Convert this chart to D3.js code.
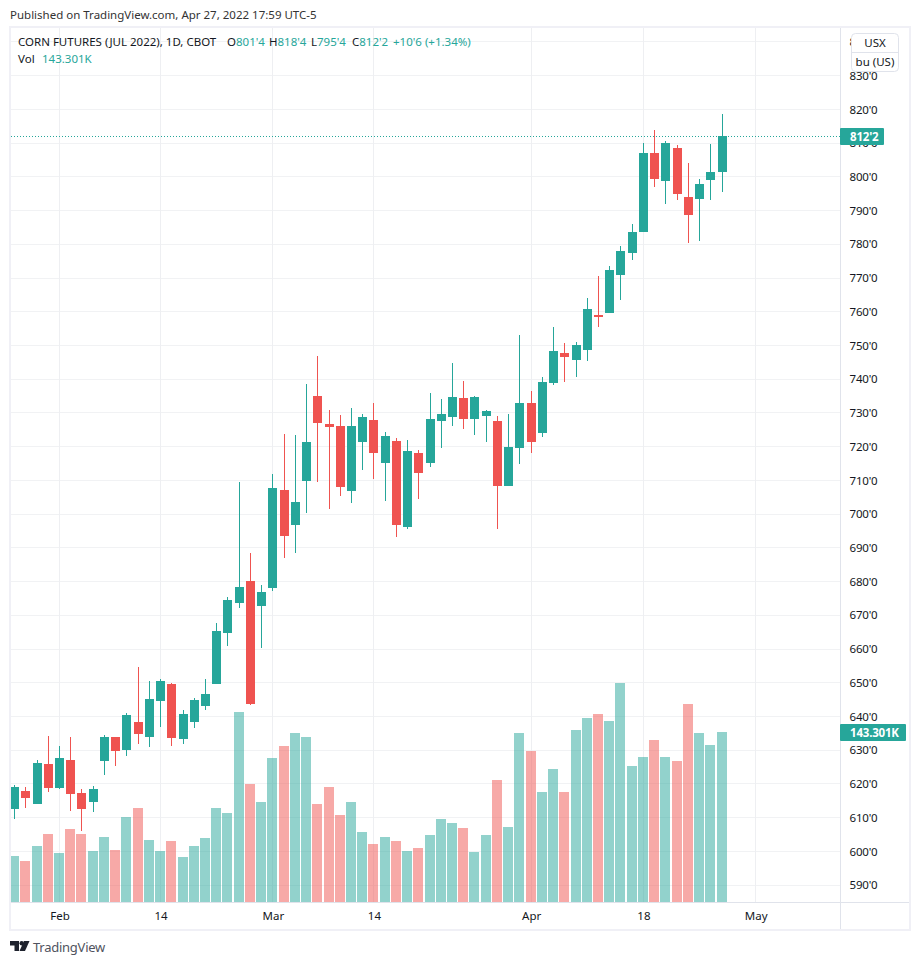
<!DOCTYPE html>
<html><head><meta charset="utf-8">
<script src="https://cdn.jsdelivr.net/npm/d3@7/dist/d3.min.js"></script>
<style>html,body{margin:0;padding:0;background:#fff}svg{display:block}text{font-family:"Noto Sans",sans-serif}</style>
</head><body><svg id="c" width="920" height="965"></svg>
<script>
const opens = [612.7,617.8,613.9,625.8,618.9,627,617.2,614.5,626.7,633.8,630.2,638.5,633.8,644.5,649.5,633.2,638.5,643,649.5,664.7,673.6,680.1,672.7,678,707.1,696.7,709.8,735,726.7,726.1,706.8,721.3,727.9,715.1,721.6,696.1,718.1,715.1,727.6,728.8,734.4,728.2,729,727.6,708.3,719.6,732.9,724,738.8,747.7,745.7,748.6,759,759.6,770.9,777.4,783.6,807.1,798.8,808.6,794,793.4,799.1,801.5];
const highs = [619.8,619.2,627,634.1,631.1,633.8,618.6,619.5,634.4,633.8,640.9,654.6,650.4,651,649.8,641.8,645.4,651,667.6,675.3,709.5,688.4,678.9,711.8,723.7,723.4,738.5,746.9,730.8,729.3,731.4,729.6,732.9,724.3,722.5,721.9,719,735.9,734.1,744.8,739.4,735,730.8,729,729.6,753.1,736.5,740.6,755.5,750.7,751,764.1,770.6,773.6,779.5,786,810,813.9,810.7,809.5,804.1,799.4,809.8,818.5];
const lows = [609.7,613,613.9,617.5,618.4,612.1,605.9,611.8,622.5,625.2,628.4,631.7,630.8,637,631.1,631.7,636.7,641.8,649.5,660.8,672.1,643.3,660.2,677.1,687,688.4,700.3,709.5,701.5,705.3,703.2,713,710.4,703.8,693.1,695.5,704.4,713.9,719.6,726.1,725.2,723.4,721.3,695.5,708.3,714.8,718.1,722.8,738.2,739.1,740.6,745.4,755.5,759.6,763.5,775.3,783.6,797,792,793.2,780.4,781,793.2,795.5];
const closes = [619.2,615.7,626.1,618.9,627.8,616.9,612.7,618.4,633.8,629.9,640.3,634.7,645.1,650.4,633.5,640.6,644.8,646.8,665.2,674.4,678.3,643.6,676.8,707.7,693.4,703.5,721.3,727,725.8,708,726.1,728.8,718.1,723.1,696.7,718.7,712.1,728.2,729.6,734.7,728.2,734.7,730.5,708.3,719.8,732.9,721.3,739.1,748.3,746.6,750.1,760.8,758.4,772.4,778,783.6,807.1,799.4,810.1,794.9,788.7,797.9,801.5,812.25];
const volumes = [39,34.8,47.4,57.5,41.5,61.7,57.5,43.2,55,44,71.8,79.4,52.4,43.2,51.6,38.1,47.4,54.1,79.4,75.1,160.1,99.5,84.4,121.4,131.5,142.5,139.1,82.7,97,73.5,84.4,59.2,49.1,54.9,51.6,43.2,45.7,56.6,70.1,66.7,62.5,42.3,56.6,102.9,63.4,142.5,127.3,92.8,112.2,92.8,145,155.1,158.5,152.6,184.5,114.7,122.3,136.6,122.3,118.9,166.9,142.5,132.4,143.301];
const timeTickIndex = [4,13,23,32,46,56,66];
const timeTickLabels = ["Feb","14","Mar","14","Apr","18","May"];
const priceTicks = d3.range(590,850,10);

const UP="#26a69a", DOWN="#ef5350", GRID="#f1f2f4", VGRID="#eeeff2", FRAME="#f0f0f6", LINE="#e0e3eb", TXT="#131722";
const FS=11.5;
const frac = v => { const w=Math.floor(v+1e-9); return w+"'"+Math.round((v-w)*8); };
const svg=d3.select("#c");
const L=11,R=840,T=28,B=902,OR=909;
const x=d3.scaleLinear().domain([0,66]).range([14.6,755.7]);
const y=d3.scaleLinear().domain([590,820]).range([885.1,109.4]);
const v=d3.scaleLinear().domain([0,143.301]).range([B,732]);
const idx=d3.range(opens.length);
const px=n=>Math.floor(n)+.5;
const up=i=>closes[i]>=opens[i];

// grid
const grid=svg.append("g").attr("stroke",GRID).attr("stroke-width",1).attr("fill","none");
grid.selectAll("line.h").data(priceTicks.filter(p=>y(p)>T)).join("line").attr("class","h").attr("x1",L).attr("x2",R).attr("y1",d=>px(y(d))).attr("y2",d=>px(y(d)));
grid.selectAll("line.v").data(timeTickIndex).join("line").attr("class","v").attr("stroke",VGRID).attr("x1",d=>px(x(d))).attr("x2",d=>px(x(d))).attr("y1",T).attr("y2",B);

// volume
svg.append("g").selectAll("rect").data(idx).join("rect")
 .attr("x",i=>Math.max(L,Math.floor(x(i))-5)).attr("width",i=>Math.floor(x(i))-5<L?Math.floor(x(i))+5-L:10)
 .attr("y",i=>v(volumes[i])).attr("height",i=>B-v(volumes[i]))
 .attr("fill",i=>up(i)?UP:DOWN).attr("fill-opacity",.5).attr("shape-rendering","crispEdges");

// candles
const cg=svg.append("g").attr("shape-rendering","crispEdges");
cg.selectAll("line").data(idx).join("line")
 .attr("x1",i=>px(x(i))).attr("x2",i=>px(x(i)))
 .attr("y1",i=>y(highs[i])).attr("y2",i=>y(lows[i]))
 .attr("stroke",i=>up(i)?UP:DOWN).attr("stroke-width",1);
cg.selectAll("rect").data(idx).join("rect")
 .attr("x",i=>Math.max(L,Math.floor(x(i))-4)).attr("width",i=>Math.floor(x(i))-4<L?Math.floor(x(i))+5-L:9)
 .attr("y",i=>y(Math.max(opens[i],closes[i])))
 .attr("height",i=>Math.max(2,Math.abs(y(opens[i])-y(closes[i]))))
 .attr("fill",i=>up(i)?UP:DOWN);

// last-price line
const last=closes.length-1;
svg.append("line").attr("x1",L).attr("x2",R).attr("y1",136.5).attr("y2",136.5)
 .attr("stroke",UP).attr("stroke-width",1).attr("stroke-dasharray","1 2").attr("shape-rendering","crispEdges");

// axes
const ay=d3.axisRight(y).tickValues(priceTicks).tickSize(0).tickPadding(9).tickFormat(frac);
const gy=svg.append("g").attr("transform",`translate(${R+.5},0)`).call(ay);
gy.select(".domain").remove();
gy.selectAll("text").attr("font-size",FS).attr("letter-spacing",-.2).attr("fill",TXT).attr("font-family",'"Noto Sans",sans-serif');
const ax=d3.axisBottom(x).tickValues(timeTickIndex).tickSize(0).tickPadding(9).tickFormat((d,i)=>timeTickLabels[i]);
const gx=svg.append("g").attr("transform",`translate(0,${B+.5})`).call(ax);
gx.select(".domain").remove();
gx.selectAll("text").attr("font-size",FS).attr("fill",TXT).attr("font-family",'"Noto Sans",sans-serif');

// frame lines
svg.append("line").attr("x1",L).attr("x2",OR).attr("y1",B+.5).attr("y2",B+.5).attr("stroke",LINE);
svg.append("line").attr("x1",R+.5).attr("x2",R+.5).attr("y1",T).attr("y2",930).attr("stroke",LINE);
svg.append("rect").attr("x",10).attr("y",27).attr("width",900).attr("height",903).attr("fill","none").attr("stroke",FRAME).attr("stroke-width",2);

// last-value labels
function tag(x0,yc,w,txt){
 svg.append("rect").attr("x",x0).attr("y",yc-8.5).attr("width",w).attr("height",17).attr("rx",1).attr("fill",UP);
 svg.append("text").attr("x",x0+10).attr("y",yc+4.2).attr("font-size",FS).attr("letter-spacing",-.2).attr("font-weight",700).attr("fill","#fff").text(txt);
}
tag(840,136.5,44,frac(closes[last]));
tag(840,v(volumes[last])+.5,66,volumes[last].toFixed(3)+"K");

// unit button
svg.append("rect").attr("x",851.5).attr("y",33.5).attr("width",47).attr("height",38).attr("rx",4).attr("fill","#fff").attr("stroke",LINE);
svg.append("line").attr("x1",851.5).attr("x2",898.5).attr("y1",52.5).attr("y2",52.5).attr("stroke",LINE);
svg.append("text").attr("x",875).attr("y",47).attr("text-anchor","middle").attr("font-size",FS).attr("fill",TXT).text("USX");
svg.append("text").attr("x",875).attr("y",66).attr("text-anchor","middle").attr("font-size",FS).attr("fill",TXT).text("bu (US)");

// header
svg.append("text").attr("x",10).attr("y",19).attr("font-size",FS).attr("fill","#333").text("Published on TradingView.com, Apr 27, 2022 17:59 UTC-5");
const chg=closes[last]-closes[last-1];
const leg=svg.append("g").attr("font-size",FS);
leg.append("text").attr("x",18).attr("y",46).attr("fill",TXT).text("CORN FUTURES (JUL 2022), 1D, CBOT");
[["O",opens,227],["H",highs,269],["L",lows,311],["C",closes,352]].forEach(([k,a,lx])=>{
 const t=leg.append("text").attr("x",lx).attr("y",46).attr("fill",TXT);
 t.append("tspan").text(k);
 t.append("tspan").attr("fill",UP).text(frac(a[last]));
});
leg.append("text").attr("x",393).attr("y",46).attr("fill",UP).text("+"+frac(chg)+" (+"+(chg/closes[last-1]*100).toFixed(2)+"%)");
leg.append("text").attr("x",18).attr("y",63).attr("fill",TXT).text("Vol");
leg.append("text").attr("x",42).attr("y",63).attr("fill",UP).text(volumes[last].toFixed(3)+"K");

// logo
const logo=svg.append("g").attr("fill","#1e222d").attr("transform","translate(10,941)");
logo.append("path").attr("d","M0 0H9V10H4.5V4.5H0Z");
logo.append("circle").attr("cx",11.7).attr("cy",2.2).attr("r",2.2);
logo.append("path").attr("d","M14 0H19.5L15 10H9.5Z");
svg.append("text").attr("x",33).attr("y",952).attr("font-size",13).attr("letter-spacing",-.25).attr("fill","#50535e").text("TradingView");
</script></body></html>
